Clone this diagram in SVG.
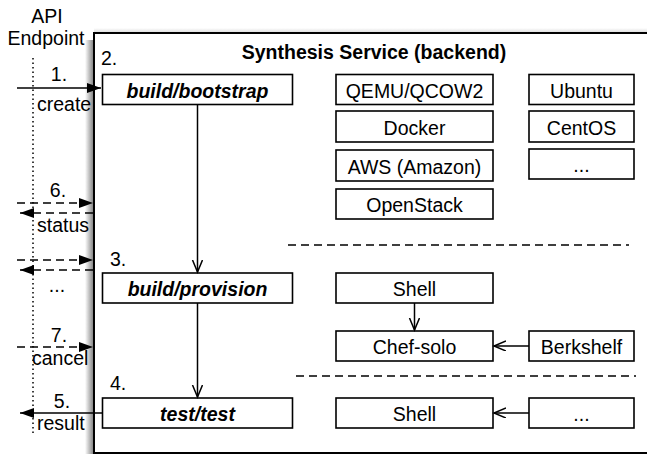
<svg xmlns="http://www.w3.org/2000/svg" width="647" height="456" viewBox="0 0 647 456">
<defs>
<style>
text{font-family:"Liberation Sans",Arial,sans-serif;font-size:19.5px;fill:#000}
.c{text-anchor:middle}
.bi{font-weight:bold;font-style:italic}
.b{font-weight:bold}
.box{fill:#fff;stroke:#000;stroke-width:1.6}
.ln{stroke:#000;stroke-width:1.5;fill:none}
.dash{stroke-dasharray:8,5}
.dot{stroke:#000;stroke-width:1.5;stroke-dasharray:1.5,3}
</style>
<marker id="fa" markerUnits="userSpaceOnUse" markerWidth="16" markerHeight="12" refX="14" refY="5" orient="auto">
<path d="M0,0 L14,5 L0,10 z" fill="#000"/>
</marker>
<marker id="oa" markerUnits="userSpaceOnUse" markerWidth="14" markerHeight="12" refX="12" refY="5" orient="auto">
<path d="M0,0 L12,5 L0,10" fill="none" stroke="#000" stroke-width="1.5"/>
</marker>
<linearGradient id="sh" x1="0" y1="0" x2="1" y2="0">
<stop offset="0" stop-color="#fff"/>
<stop offset="1" stop-color="#7a7a7a"/>
</linearGradient>
<linearGradient id="sht" x1="0" y1="0" x2="0" y2="1">
<stop offset="0" stop-color="#fff"/>
<stop offset="1" stop-color="#d8d8d8"/>
</linearGradient>
</defs>
<rect width="647" height="456" fill="#fff"/>

<g id="api">
<text class="c" x="47" y="23">API</text>
<text class="c" x="46" y="45">Endpoint</text>
<line class="dot" x1="33" y1="58" x2="33" y2="434"/>
</g>

<g id="service">
<rect x="85" y="40" width="9" height="414" fill="url(#sh)"/>
<rect x="94" y="28" width="553" height="5" fill="url(#sht)"/>
<rect x="94" y="33" width="570" height="420" fill="#fff" stroke="#000" stroke-width="2"/>
<text class="c b" x="374" y="58.5">Synthesis Service (backend)</text>
</g>

<g id="labels">
<text x="101" y="65">2.</text>
<text class="c" x="59" y="81">1.</text>
<text x="37" y="111">create</text>
<text class="c" x="58" y="197">6.</text>
<text x="37" y="232">status</text>
<text x="110" y="266">3.</text>
<text class="c" x="57" y="292">...</text>
<text class="c" x="59" y="342">7.</text>
<text x="32" y="365">cancel</text>
<text x="110" y="390">4.</text>
<text class="c" x="62" y="408">5.</text>
<text x="37" y="430">result</text>
</g>

<g id="build-bootstrap"><rect class="box" x="102.5" y="74.5" width="190" height="30"/><text class="c bi" x="197.5" y="97.5">build/bootstrap</text></g>
<g id="build-provision"><rect class="box" x="102.5" y="273" width="190" height="30"/><text class="c bi" x="197.5" y="296">build/provision</text></g>
<g id="test-test"><rect class="box" x="102.5" y="398" width="190" height="30"/><text class="c bi" x="197.5" y="421">test/test</text></g>

<g id="qemu"><rect class="box" x="336" y="74.5" width="157" height="30"/><text class="c" x="414.5" y="97.5">QEMU/QCOW2</text></g>
<g id="docker"><rect class="box" x="336" y="111" width="157" height="31"/><text class="c" x="414.5" y="134.5">Docker</text></g>
<g id="aws"><rect class="box" x="336" y="150" width="157" height="31"/><text class="c" x="414.5" y="173.5">AWS (Amazon)</text></g>
<g id="openstack"><rect class="box" x="336" y="189" width="157" height="30"/><text class="c" x="414.5" y="212">OpenStack</text></g>
<g id="ubuntu"><rect class="box" x="529" y="74.5" width="105" height="30"/><text class="c" x="581.5" y="97.5">Ubuntu</text></g>
<g id="centos"><rect class="box" x="529" y="111" width="105" height="31"/><text class="c" x="581.5" y="134.5">CentOS</text></g>
<g id="os-more"><rect class="box" x="529" y="149" width="105" height="30"/><text class="c" x="581.5" y="172">...</text></g>

<g id="shell-1"><rect class="box" x="336" y="273" width="157" height="30"/><text class="c" x="414.5" y="296">Shell</text></g>
<g id="chef-solo"><rect class="box" x="336" y="331" width="157" height="30"/><text class="c" x="414.5" y="354">Chef-solo</text></g>
<g id="berkshelf"><rect class="box" x="529" y="331" width="105" height="30"/><text class="c" x="581.5" y="354">Berkshelf</text></g>
<g id="shell-2"><rect class="box" x="336" y="398" width="157" height="30"/><text class="c" x="414.5" y="421">Shell</text></g>
<g id="test-more"><rect class="box" x="529" y="398" width="105" height="30"/><text class="c" x="581.5" y="421">...</text></g>

<g id="connectors">
<line class="ln" x1="17" y1="88" x2="101" y2="88" marker-end="url(#fa)"/>
<line class="ln dash" x1="17" y1="203" x2="93" y2="203" marker-end="url(#fa)"/>
<line class="ln dash" x1="93" y1="213" x2="20" y2="213" marker-end="url(#fa)"/>
<line class="ln dash" x1="17" y1="260" x2="93" y2="260" marker-end="url(#fa)"/>
<line class="ln dash" x1="93" y1="270" x2="20" y2="270" marker-end="url(#fa)"/>
<line class="ln dash" x1="17" y1="347" x2="93" y2="347" marker-end="url(#fa)"/>
<line class="ln" x1="102" y1="413" x2="20" y2="413" marker-end="url(#fa)"/>
<line class="ln" x1="197.5" y1="104.5" x2="197.5" y2="272" marker-end="url(#oa)"/>
<line class="ln" x1="197.5" y1="303" x2="197.5" y2="397" marker-end="url(#oa)"/>
<line class="ln" x1="414.5" y1="303" x2="414.5" y2="330" marker-end="url(#oa)"/>
<line class="ln" x1="529" y1="346" x2="494" y2="346" marker-end="url(#oa)"/>
<line class="ln" x1="529" y1="413" x2="494" y2="413" marker-end="url(#oa)"/>
<line class="ln dash" x1="288" y1="245" x2="629" y2="245"/>
<line class="ln dash" x1="296" y1="376" x2="636" y2="376"/>
</g>
</svg>
